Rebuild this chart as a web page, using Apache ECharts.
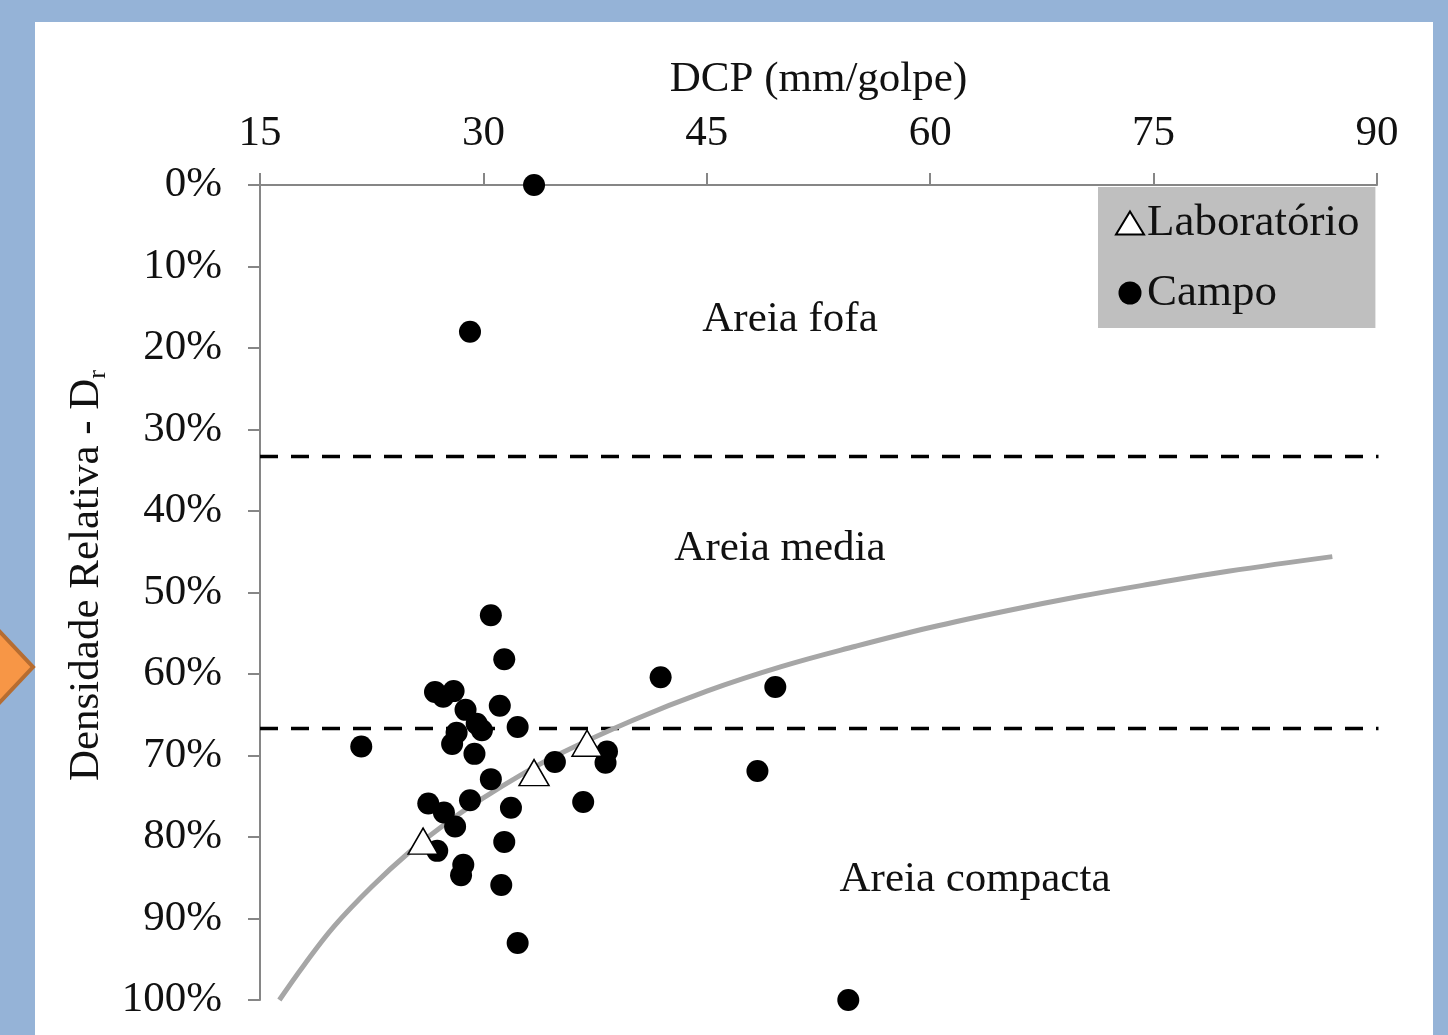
<!DOCTYPE html>
<html><head><meta charset="utf-8">
<script src="https://cdn.jsdelivr.net/npm/echarts@6/dist/echarts.min.js"></script>
<style>html,body{margin:0;padding:0;background:#95b3d7;} #c{width:1448px;height:1035px;}</style>
</head><body><div id="c"></div>
<script>
// ---- data ----
const xTicks = [15, 30, 45, 60, 75, 90];
const yTicks = [0, 10, 20, 30, 40, 50, 60, 70, 80, 90, 100];
const campoDCP = [33.4, 29.1, 30.5, 31.4, 26.75, 27.3, 28.0, 31.1, 28.8, 29.55, 29.9, 32.3, 28.2, 27.9, 21.8, 29.4, 38.3, 38.2, 34.8, 30.5, 26.3, 29.1, 27.35, 31.85, 36.7, 28.1, 31.4, 26.9, 28.65, 28.5, 31.2, 32.3, 41.9, 49.6, 48.4, 54.5];
const campoDr  = [0, 18.0, 52.8, 58.2, 62.2, 62.8, 62.1, 63.9, 64.4, 66.1, 66.9, 66.5, 67.2, 68.6, 68.9, 69.8, 69.5, 70.9, 70.8, 72.9, 75.9, 75.5, 77.0, 76.4, 75.7, 78.7, 80.6, 81.7, 83.4, 84.7, 85.9, 93.0, 60.4, 61.6, 71.9, 100];
const labDCP = [25.95, 33.4, 36.96];
const labDr  = [80.5, 72.1, 68.5];
const trendDCP = [16.3, 18, 20, 22.5, 25, 27.5, 30, 32.5, 35, 40, 45, 50, 55, 60, 65, 70, 75, 80, 87];
const trendDr  = [100, 95.6, 90.9, 86.1, 81.9, 78.3, 75.2, 72.4, 69.9, 65.7, 62.1, 59.1, 56.6, 54.3, 52.3, 50.5, 48.9, 47.4, 45.6];
const boundaries = [33.3, 66.7];
const zoneNames = ['Areia fofa', 'Areia media', 'Areia compacta'];
const seriesNames = ['Laboratório', 'Campo'];
const xName = 'DCP (mm/golpe)';
const yName = 'Densidade Relativa - D';

const FONT = '"Liberation Serif", "DejaVu Serif", serif';
const FS = 43;
const pair = (xs, ys) => xs.map((x, i) => [x, ys[i]]);

const chart = echarts.init(document.getElementById('c'), null, {renderer: 'canvas'});

const boundarySeries = boundaries.map(b => ({
  type: 'line', silent: true, symbol: 'none', clip: false,
  data: [[xTicks[0], b], [xTicks[xTicks.length - 1] + 0.1, b]],
  lineStyle: {color: '#000', width: 3.5, type: [18, 13]},
  z: 3
}));

const zoneText = (name, cx, cy) => ({
  type: 'text', x: cx, y: cy,
  style: {text: name, font: FS + 'px ' + FONT, fill: '#111', align: 'center', verticalAlign: 'middle'}
});

chart.setOption({
  backgroundColor: '#95b3d7',
  animation: false,
  textStyle: {fontFamily: FONT},
  graphic: [
    {type: 'rect', z: -10, shape: {x: 35, y: 22, width: 1398, height: 1030}, style: {fill: '#ffffff'}},
    {type: 'polygon', z: -5, shape: {points: [[-12, 619], [33, 667], [-12, 715]]},
      style: {fill: '#f79646', stroke: '#b66d31', lineWidth: 4}},
    zoneText(zoneNames[0], 790, 320),
    zoneText(zoneNames[1], 780, 549),
    zoneText(zoneNames[2], 975, 880)
  ],
  grid: {left: 260, top: 185, right: 71, bottom: 35, containLabel: false},
  legend: {
    data: seriesNames,
    orient: 'vertical',
    left: 1098, top: 187,
    backgroundColor: '#bfbfbf',
    padding: [12, 16, 11, 17],
    itemGap: 22,
    itemWidth: 28, itemHeight: 23,
    textStyle: {fontFamily: FONT, fontSize: 45, color: '#111', padding: [0, 0, 0, -2], lineHeight: 48}
  },
  xAxis: {
    type: 'value', position: 'top',
    min: xTicks[0], max: xTicks[xTicks.length - 1], interval: 15,
    name: xName, nameLocation: 'middle', nameGap: 84,
    nameTextStyle: {fontFamily: FONT, fontSize: FS, color: '#111'},
    axisLine: {show: true, lineStyle: {color: '#868686', width: 2}},
    axisTick: {show: true, inside: false, length: 12, lineStyle: {color: '#868686', width: 2}},
    axisLabel: {fontFamily: FONT, fontSize: FS, color: '#111', margin: 30},
    splitLine: {show: false}
  },
  yAxis: {
    type: 'value', inverse: true,
    min: yTicks[0], max: yTicks[yTicks.length - 1], interval: 10,
    name: yName + '{sub|r}', nameLocation: 'middle', nameGap: 135, nameRotate: 90,
    nameTextStyle: {fontFamily: FONT, fontSize: FS, color: '#111', padding: [0, 0, 0, 34],
      rich: {sub: {fontFamily: FONT, fontSize: 26, color: '#111', verticalAlign: 'bottom', padding: [22, 0, 0, 0]}}},
    axisLine: {show: true, lineStyle: {color: '#868686', width: 2}},
    axisTick: {show: true, inside: false, length: 12, lineStyle: {color: '#868686', width: 2}},
    axisLabel: {fontFamily: FONT, fontSize: FS, color: '#111', margin: 38, formatter: '{value}%'},
    splitLine: {show: false}
  },
  series: [
    ...boundarySeries,
    {
      type: 'line', name: 'trend', symbol: 'none', smooth: 0.4, silent: true,
      data: pair(trendDCP, trendDr),
      lineStyle: {color: '#a6a6a6', width: 5},
      z: 4
    },
    {
      type: 'scatter', name: seriesNames[1], clip: false,
      data: pair(campoDCP, campoDr),
      symbol: 'circle', symbolSize: 22,
      itemStyle: {color: '#000', opacity: 1},
      z: 5
    },
    {
      type: 'scatter', name: seriesNames[0], clip: false,
      data: pair(labDCP, labDr),
      symbol: 'triangle', symbolSize: [30, 26],
      itemStyle: {color: '#ffffff', borderColor: '#000', borderWidth: 1.5, opacity: 1},
      z: 6
    }
  ]
});
</script>
</body></html>
